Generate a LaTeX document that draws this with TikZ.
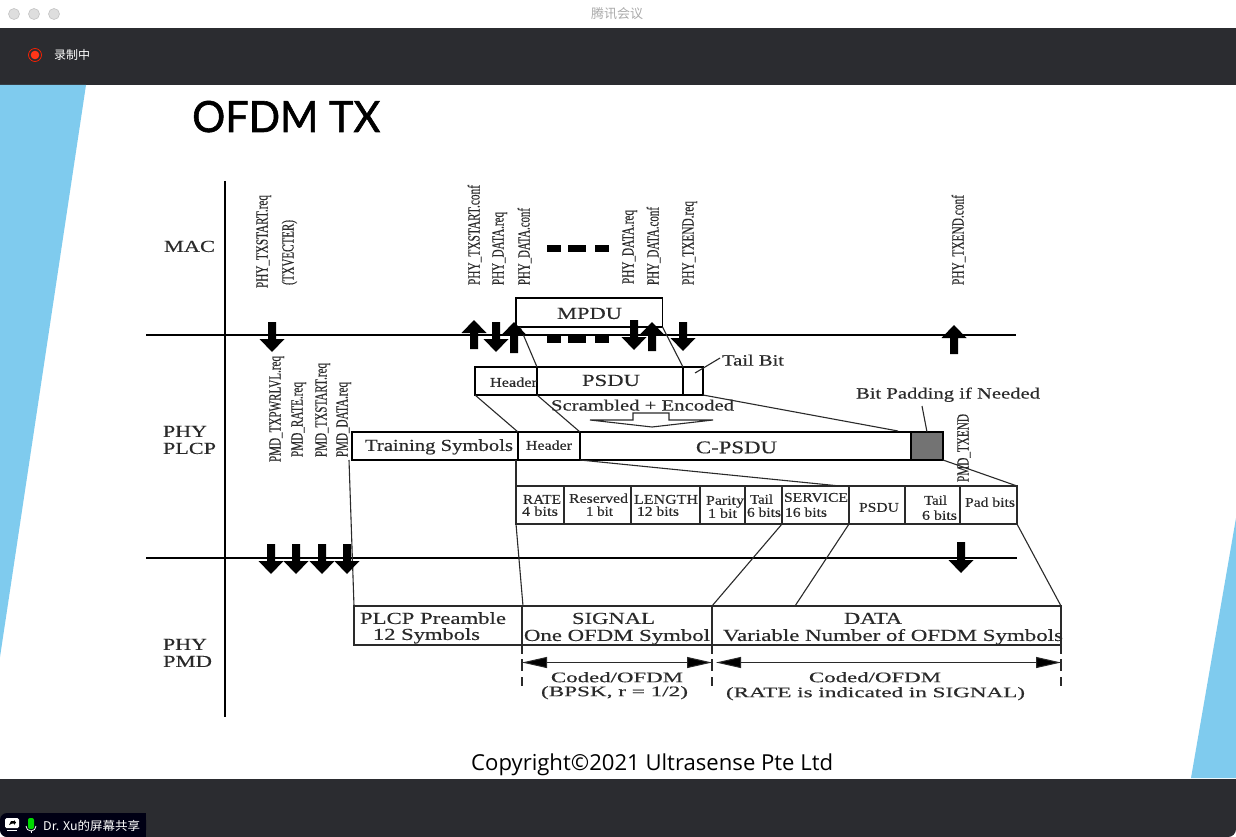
\documentclass[tikz,border=0pt]{standalone}
\usepackage{fontspec}
\setmainfont[FakeBold=0.3]{Liberation Serif}
\newfontfamily\cjkf{Noto Sans CJK SC}
\newfontfamily\ttlf[FakeBold=1.4]{Lato}
\newfontfamily\uif{Open Sans}
\usetikzlibrary{arrows.meta}
\definecolor{barc}{HTML}{2B2C30}
\definecolor{blueb}{HTML}{7FCBEE}
\definecolor{inkc}{HTML}{2A2A2A}
\tikzset{
  x=1pt,y=-1pt,
  pbox/.style={draw=inkc,line width=1.2pt,anchor=north west,inner sep=0,outer sep=0},
  heavy/.style={draw=black,line width=1.7pt},
  link/.style={draw=inkc,line width=1.1pt},
  rule/.style={draw=black,line width=1.6pt},
  dimline/.style={draw=inkc,line width=1pt,{Triangle[length=25pt,width=11pt,fill=black]}-{Triangle[length=25pt,width=11pt,fill=black]}},
  tickline/.style={draw=inkc,line width=1.1pt,dash pattern=on 9pt off 5pt on 12pt off 6pt},
  textn/.style={inner sep=0,outer sep=0,anchor=base west,text=inkc},
}
% box: name x0 y0 x1 y1 options
\newcommand{\bx}[6][]{%
  \pgfmathsetlengthmacro{\bxw}{(#5-#3)*1pt}\pgfmathsetlengthmacro{\bxh}{(#6-#4)*1pt}%
  \node[pbox,minimum width=\bxw,minimum height=\bxh,#1] (#2) at (#3,#4) {};}
% label: name left ycentre width size text
\newcommand{\lbl}[6]{%
  \pgfmathsetmacro{\lby}{#3+0.5+0.36*#5}%
  \pgfmathsetmacro{\lbs}{#5*1.12}%
  \node[textn] (#1) at (#2,\lby) {\resizebox{#4pt}{\height}{\fontsize{\lbs}{\lbs}\selectfont #6}};}
% rotated label: name xcentre ybottom length text
\newcommand{\rl}[5]{%
  \pgfmathsetmacro{\rlx}{#2+5.5}%
  \node[textn,rotate=90] (#1) at (\rlx,#3) {\resizebox{#4pt}{\height}{\fontsize{17}{17}\selectfont #5}};}
\newcommand{\dn}[3]{\fill[black] ({#1-4},#2) -- ({#1+4},#2) -- ({#1+4},{#3-13}) -- ({#1+12.5},{#3-13}) -- (#1,#3) -- ({#1-12.5},{#3-13}) -- ({#1-4},{#3-13}) -- cycle;}
\newcommand{\up}[3]{\fill[black] ({#1-4},#3) -- ({#1+4},#3) -- ({#1+4},{#2+13}) -- ({#1+12.5},{#2+13}) -- (#1,#2) -- ({#1-12.5},{#2+13}) -- ({#1-4},{#2+13}) -- cycle;}
\begin{document}
\begin{tikzpicture}
\useasboundingbox (0,0) rectangle (1236,837);
\fill[white] (0,0) rectangle (1236,837);
% window chrome
\foreach \cx in {14,34,54}{\filldraw[fill=black!13,draw=black!23,line width=.6pt] (\cx,14) circle[radius=5.5pt];}
\node[inner sep=0,text=black!33] (wintitle) at (617,13.5) {\fontsize{13}{13}\selectfont\cjkf 腾讯会议};
\fill[barc] (0,28) rectangle (1236,85);
\draw[red!75!orange,line width=.7pt] (35,55) circle[radius=6.5pt];
\fill[red!75!orange!90!white] (35,55) circle[radius=4.3pt];
\node[inner sep=0,text=white,anchor=west] (rec) at (54,55) {\fontsize{12}{12}\selectfont\cjkf 录制中};
% slide background
\fill[blueb] (0,85) -- (86,85) -- (0,657) -- cycle;
\fill[blueb] (1236,518) -- (1191,778) -- (1236,778) -- cycle;
% bottom bar
\fill[barc,rounded corners=8pt] (0,779) -- (1236,779) -- (1236,837) -- (0,837) -- cycle;
\fill[barc] (0,779) rectangle (1236,820);
\fill[black!92!blue,rounded corners=7pt] (0,813) -- (146,813) -- (146,837) -- (0,837) -- cycle;
\fill[black!92!blue] (8,813) rectangle (146,837);
\fill[white,rounded corners=1.5pt] (5,818) rectangle (19,828);
\fill[white] (7,830) rectangle (17,831);
\fill[black] (9,825) -- (11,821) -- (14,821) -- (14,820) -- (16,822.5) -- (14,825) -- (14,823.5) -- (12,823.5) -- cycle;
\fill[green!85!black,rounded corners=2pt] (28,818) rectangle (34,829);
\draw[white,line width=.8pt] (26,826) arc[start angle=180,end angle=360,radius=5pt];
\draw[white,line width=.8pt] (31,831) -- (31,833);
\node[inner sep=0,text=white,anchor=west] (share) at (43,826) {\resizebox{97pt}{\height}{\fontsize{12}{12}\selectfont\cjkf Dr. Xu的屏幕共享}};
% title and copyright
\node[inner sep=0,anchor=base west,text=black] (title) at (192,132) {\resizebox{188pt}{\height}{\fontsize{43}{43}\selectfont\ttlf OFDM TX}};
\node[inner sep=0,anchor=base west,text=black] (copy) at (471,770) {\resizebox{362pt}{\height}{\fontsize{22}{22}\selectfont\uif Copyright©2021 Ultrasense Pte Ltd}};
% main rules
\coordinate (vt) at (225,181); \coordinate (vb) at (225,717);
\coordinate (h1l) at (146,335); \coordinate (h1r) at (1016,335);
\coordinate (h2l) at (146,558); \coordinate (h2r) at (1017,558);
\draw[rule] (vt) -- (vb);
\draw[rule] (h1l) -- (h1r);
\draw[rule] (h2l) -- (h2r);
% boxes
\bx[heavy]{mpdu}{516}{298}{662.5}{327}
\bx[heavy]{hdra}{475}{367}{537}{395}
\bx[heavy]{psdua}{537}{367}{683}{395}
\bx[heavy]{tailb}{683}{367}{703}{395}
\bx[heavy]{train}{352}{432}{518}{460}
\bx[heavy]{hdrb}{518}{432}{580}{460}
\bx[heavy]{cpsdu}{580}{432}{911}{460}
\bx[heavy,fill=black!55]{pad}{911}{432}{943}{460}
\bx{rate}{516}{486}{564}{524}
\bx{resv}{564}{486}{631}{524}
\bx{leng}{631}{486}{700}{524}
\bx{pari}{700}{486}{745}{524}
\bx{taila}{745}{486}{782}{524}
\bx{serv}{782}{486}{849}{524}
\bx{psdub}{849}{486}{905}{524}
\bx{tailc}{905}{486}{960}{524}
\bx{padb}{960}{486}{1017}{524}
\bx{plcp}{354}{606}{522}{645}
\bx{signal}{522}{606}{712}{645}
\bx{data}{712}{606}{1061}{645}
% connectors
\coordinate (mpl) at (520,327);
\coordinate (tailend) at (898,431);
\coordinate (cpend) at (840,486);
\coordinate (datam) at (795,606);
\coordinate (tbA) at (695,373); \coordinate (tbB) at (720,358);
\coordinate (bpA) at (922,406);
\coordinate (bpB) at (927,432);
\coordinate (trA) at (349,460);
\coordinate (hdA) at (516,460);
\coordinate (sgA) at (523,606);
\draw[link] (mpl) -- (psdua.north west);
\draw[link] (mpdu.south east) -- (psdua.north east);
\draw[link] (tbA) -- (tbB);
\draw[link] (hdra.south west) -- (hdrb.north west);
\draw[link] (psdua.south west) -- (cpsdu.north west);
\draw[link] (tailb.south east) -- (tailend);
\draw[link] (bpA) -- (bpB);
\draw[link] (cpsdu.south west) -- (cpend);
\draw[link] (pad.south east) -- (padb.north east);
\draw[link] (trA) -- (plcp.north west);
\draw[link] (hdA) -- (rate.north west);
\draw[link] (rate.south west) -- (sgA);
\draw[link] (serv.south west) -- (data.north west);
\draw[link] (serv.south east) -- (datam);
\draw[link] (padb.south east) -- (data.north east);
% dimension lines
\coordinate (sd1) at (522,662.5); \coordinate (sd2) at (712,662.5);
\coordinate (dd1) at (716,662.5); \coordinate (dd2) at (1061,662.5);
\draw[dimline] (sd1) -- (sd2);
\draw[dimline] (dd1) -- (dd2);
\coordinate (t1b) at (522,686); \coordinate (t2b) at (712,686); \coordinate (t3b) at (1061,686);
\draw[tickline] (signal.south west) -- (t1b);
\draw[tickline] (signal.south east) -- (t2b);
\draw[tickline] (data.south east) -- (t3b);
% hollow arrow
\draw[link,fill=white] (633,420) -- (633,413) -- (669,413) -- (669,420) -- (713,420) -- (652,427) -- (590,420) -- cycle;
% dashes
\foreach \a/\b in {547/561,568/586,595/609}{
  \fill[black] (\a,245) rectangle (\b,252);
  \fill[black] (\a,335) rectangle (\b,343);
}
% block arrows
\dn{272}{322}{352}
\up{474}{320}{349}
\dn{496}{322}{352}
\up{514}{322}{353}
\dn{634}{320}{350}
\up{652}{322}{351}
\dn{683}{322}{351}
\up{954}{325}{354}
\dn{271}{544}{574}
\dn{296}{544}{574}
\dn{322}{544}{574}
\dn{347}{544}{574}
\dn{961}{542}{573}
% rotated labels
\rl{ra}{262}{288}{93}{PHY\_TXSTART.req}
\rl{rb}{288}{285}{65}{(TXVECTER)}
\rl{rc}{474}{285}{100}{PHY\_TXSTART.conf}
\rl{rd}{498}{285}{73}{PHY\_DATA.req}
\rl{re}{524}{285}{77}{PHY\_DATA.conf}
\rl{rf}{628}{284}{74}{PHY\_DATA.req}
\rl{rg}{653}{285}{78}{PHY\_DATA.conf}
\rl{rh}{688}{285}{84}{PHY\_TXEND.req}
\rl{ri}{958}{285}{90}{PHY\_TXEND.conf}
\rl{rj}{275}{462}{106}{PMD\_TXPWRLVL.req}
\rl{rk}{297}{457}{75}{PMD\_RATE.req}
\rl{rl}{321}{457}{94}{PMD\_TXSTART.req}
\rl{rm}{342}{457}{75}{PMD\_DATA.req}
\rl{rn}{963}{482}{68}{PMD\_TXEND}
% horizontal labels
\lbl{l1}{164}{246}{51}{15}{MAC}
\lbl{l2}{163}{431}{44}{15}{PHY}
\lbl{l3}{163}{448}{53}{15}{PLCP}
\lbl{l4}{163}{644}{44}{15}{PHY}
\lbl{l5}{163}{661}{49}{15}{PMD}
\lbl{l6}{557}{313}{65}{15}{MPDU}
\lbl{l7}{490}{382}{47}{12}{Header}
\lbl{l8}{582}{380}{58}{15}{PSDU}
\lbl{l9}{722}{360}{62}{14}{Tail Bit}
\lbl{l10}{856}{393}{184}{14}{Bit Padding if Needed}
\lbl{l11}{551}{405}{183}{14}{Scrambled + Encoded}
\lbl{l12}{365}{445}{148}{15}{Training Symbols}
\lbl{l13}{526}{445}{46}{12}{Header}
\lbl{l14}{696}{447}{81}{16}{C-PSDU}
\lbl{l15}{523}{499}{38}{12}{RATE}
\lbl{l16}{522}{511}{36}{12}{4 bits}
\lbl{l17}{569}{498}{59}{12}{Reserved}
\lbl{l18}{586}{511}{27}{12}{1 bit}
\lbl{l19}{634}{499}{64}{12}{LENGTH}
\lbl{l20}{637}{511}{42}{12}{12 bits}
\lbl{l21}{706}{500}{38}{12}{Parity}
\lbl{l22}{708}{513}{29}{12}{1 bit}
\lbl{l23}{750}{499}{23}{12}{Tail}
\lbl{l24}{747}{512}{34}{12}{6 bits}
\lbl{l25}{784}{497}{64}{12}{SERVICE}
\lbl{l26}{785}{512}{42}{12}{16 bits}
\lbl{l27}{859}{507}{40}{12}{PSDU}
\lbl{l28}{924}{500}{23}{12}{Tail}
\lbl{l29}{922}{515}{35}{12}{6 bits}
\lbl{l30}{965}{502}{50}{12}{Pad bits}
\lbl{l31}{360}{618}{146}{15}{PLCP Preamble}
\lbl{l32}{373}{634}{107}{15}{12 Symbols}
\lbl{l33}{572}{618}{83}{15}{SIGNAL}
\lbl{l34}{524}{635}{186}{15}{One OFDM Symbol}
\lbl{l35}{844}{618}{58}{15}{DATA}
\lbl{l36}{723}{635}{340}{15}{Variable Number of OFDM Symbols}
\lbl{l37}{551}{677}{132}{13}{Coded/OFDM}
\lbl{l38}{541}{691}{147}{13}{(BPSK, r = 1/2)}
\lbl{l39}{809}{677}{132}{13}{Coded/OFDM}
\lbl{l40}{726}{692}{299}{13}{(RATE is indicated in SIGNAL)}
\end{tikzpicture}
\end{document}
